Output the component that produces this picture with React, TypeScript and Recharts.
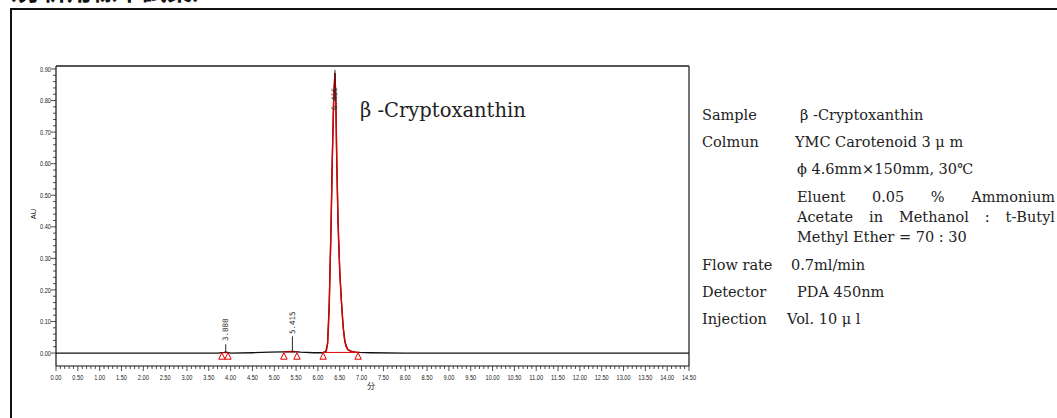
import React from 'react';
import { ComposedChart, Line, XAxis, YAxis, Scatter, ReferenceLine } from 'recharts';

// chromatogram trace (time in min, absorbance in AU)
const times = [0, 1.0, 2.0, 3.0, 3.7, 3.85, 3.89, 3.93, 4.0, 4.5, 4.9, 5.2, 5.415, 5.6, 5.9, 6.1, 6.18, 6.22, 6.26, 6.3, 6.33, 6.36, 6.39, 6.41, 6.43, 6.46, 6.5, 6.54, 6.58, 6.62, 6.68, 6.75, 6.85, 6.95, 7.2, 8.0, 9.0, 10.0, 11.0, 12.0, 13.0, 14.0, 14.5];
const signal = [0, 0, 0, 0, 0, 0.002, 0.003, 0.002, 0, 0.001, 0.003, 0.004, 0.005, 0.003, 0.001, 0.001, 0.005, 0.03, 0.16, 0.4, 0.62, 0.8, 0.887, 0.8, 0.62, 0.42, 0.26, 0.16, 0.08, 0.035, 0.012, 0.006, 0.003, 0.002, 0.001, 0, 0, 0, 0, 0, 0, 0, 0];
const peakSignal = [null, null, null, null, null, null, null, null, null, null, null, null, null, null, null, 0.001, 0.005, 0.03, 0.16, 0.4, 0.62, 0.8, 0.887, 0.8, 0.62, 0.42, 0.26, 0.16, 0.08, 0.035, 0.012, 0.006, 0.003, 0.002, null, null, null, null, null, null, null, null, null];

// integration markers
const markerTimes = [3.8, 3.94, 5.22, 5.52, 6.12, 6.92];
const markerLevel = [-0.01, -0.01, -0.01, -0.01, -0.01, -0.01];

// retention time labels
const rtTimes = [3.888, 5.415, 6.39];
const rtLabels = ['3.888', '5.415', '6.416'];
const rtLabelLevel = [0.038, 0.06, 0.77];
const rtLineFrom = [0, 0.004, 0.8];
const rtLineTo = [0.028, 0.053, 0.897];

// axis ticks
const xTicks = Array.from({ length: 146 }, (_, i) => i / 10);
const yTicks = Array.from({ length: 46 }, (_, i) => i / 50);

const data = times.map((t, i) => ({ t, s: signal[i], p: peakSignal[i] }));
const markers = markerTimes.map((t, i) => ({ t, v: markerLevel[i] }));
const rtPoints = rtTimes.map((t, i) => ({ t, v: rtLabelLevel[i], label: rtLabels[i] }));

const tickFont = '"Liberation Sans", Arial, sans-serif';

const XTick = (props: any) => {
  const { x, y, payload } = props;
  const v = payload.value as number;
  const major = Math.round(v * 10) % 5 === 0;
  const label = v.toFixed(2);
  return (
    <g>
      <line x1={x} x2={x} y1={y} y2={y + (major ? 5 : 3)} stroke="#222" strokeWidth={0.8} />
      {major && (
        <text x={x} y={y + 13.5} textAnchor="middle" fontSize={7.5} fontFamily={tickFont} fill="#222"
          textLength={label.length > 4 ? 14 : 11} lengthAdjust="spacingAndGlyphs">
          {label}
        </text>
      )}
    </g>
  );
};

const YTick = (props: any) => {
  const { x, y, payload } = props;
  const v = payload.value as number;
  const major = Math.round(v * 50) % 5 === 0;
  return (
    <g>
      <line x1={x - (major ? 5 : 3)} x2={x} y1={y} y2={y} stroke="#222" strokeWidth={0.8} />
      {major && (
        <text x={x - 5} y={y + 2.6} textAnchor="end" fontSize={7.5} fontFamily={tickFont} fill="#222"
          textLength={11} lengthAdjust="spacingAndGlyphs">
          {v.toFixed(2)}
        </text>
      )}
    </g>
  );
};

const Tri = (props: any) => {
  const { cx, cy } = props;
  if (cx == null || cy == null) return null;
  return <polygon points={`${cx},${cy - 3.5} ${cx - 3.2},${cy + 3} ${cx + 3.2},${cy + 3}`} fill="#fff" stroke="#e00000" strokeWidth={1} />;
};

const RtLabel = (props: any) => {
  const { cx, cy, payload } = props;
  if (cx == null || cy == null) return null;
  return (
    <text
      x={cx + 2.5}
      y={cy}
      transform={`rotate(-90 ${cx + 2.5} ${cy})`}
      textAnchor="start"
      fontSize={7.5}
      fontFamily='"DejaVu Sans Mono", monospace'
      fill="#333"
    >
      {payload.label}
    </text>
  );
};

const serif = '"DejaVu Serif", serif';

const abs = (left: number, top: number, extra: React.CSSProperties = {}): React.CSSProperties => ({
  position: 'absolute',
  left,
  top,
  whiteSpace: 'nowrap',
  fontFamily: serif,
  fontSize: 14.5,
  lineHeight: '18px',
  color: '#222',
  ...extra,
});

export default function App() {
  return (
    <div style={{ position: 'absolute', left: 0, top: 0, width: 1057, height: 418, overflow: 'hidden', background: '#fff' }}>
      {/* cut-off title */}
      <div style={{ position: 'absolute', left: -8, top: -23, fontSize: 25, lineHeight: '25px', fontWeight: 700, fontFamily: '"Noto Sans CJK JP", sans-serif', color: '#111', whiteSpace: 'nowrap' }}>
        （分析用標準試薬）
      </div>
      {/* outer frame */}
      <div style={{ position: 'absolute', left: 10, top: 8, width: 1100, height: 500, borderTop: '2px solid #111', borderLeft: '2px solid #111' }} />

      <div style={{ position: 'absolute', left: 0, top: 0 }}>
        <ComposedChart width={1057} height={418} data={data} margin={{ top: 66, right: 368, left: 0, bottom: 0 }}>
          <XAxis
            dataKey="t"
            type="number"
            domain={[0, 14.5]}
            ticks={xTicks}
            interval={0}
            tick={<XTick />}
            tickLine={false}
            tickSize={0}
            tickMargin={0}
            height={52}
            axisLine={{ stroke: '#111', strokeWidth: 1.2 }}
            allowDataOverflow
          />
          <YAxis
            type="number"
            domain={[-0.041, 0.9095]}
            ticks={yTicks}
            interval={0}
            tick={<YTick />}
            tickLine={false}
            tickSize={0}
            tickMargin={0}
            width={56}
            axisLine={{ stroke: '#111', strokeWidth: 1.2 }}
            allowDataOverflow
          />
          <ReferenceLine y={0.9095} stroke="#555" strokeWidth={2} ifOverflow="visible" />
          <ReferenceLine x={14.5} stroke="#444" strokeWidth={1.5} ifOverflow="visible" />
          <Line dataKey="s" type="linear" stroke="#111" strokeWidth={1.3} dot={false} isAnimationActive={false} />
          <Line dataKey="p" type="monotone" stroke="#e00000" strokeWidth={1.4} dot={false} isAnimationActive={false} connectNulls={false} />
          <ReferenceLine segment={[{ x: 3.8, y: 0.001 }, { x: 3.94, y: 0.001 }]} stroke="#e00000" strokeWidth={1} ifOverflow="visible" />
          <ReferenceLine segment={[{ x: 5.22, y: 0.004 }, { x: 5.52, y: 0.004 }]} stroke="#e00000" strokeWidth={1} ifOverflow="visible" />
          <ReferenceLine segment={[{ x: 6.12, y: 0.002 }, { x: 6.92, y: 0.002 }]} stroke="#e00000" strokeWidth={1} ifOverflow="visible" />
          {rtTimes.map((t, i) => (
            <ReferenceLine key={t} segment={[{ x: t, y: rtLineFrom[i] }, { x: t, y: rtLineTo[i] }]} stroke="#111" strokeWidth={0.9} ifOverflow="visible" />
          ))}
          <Scatter data={markers} dataKey="v" shape={<Tri />} isAnimationActive={false} />
          <Scatter data={rtPoints} dataKey="v" shape={<RtLabel />} isAnimationActive={false} />
        </ComposedChart>
      </div>

      {/* axis titles */}
      <div style={{ position: 'absolute', left: 29, top: 209, fontSize: 7.5, lineHeight: '10px', fontFamily: tickFont, color: '#222', transform: 'rotate(-90deg)' }}>AU</div>
      <div style={{ position: 'absolute', left: 367, top: 381, fontSize: 8, lineHeight: '9px', fontFamily: '"Noto Sans CJK JP", sans-serif', color: '#222' }}>分</div>

      {/* compound label */}
      <div style={abs(360, 99, { fontSize: 19.5, lineHeight: '24px' })}>β -Cryptoxanthin</div>

      {/* conditions */}
      <div style={abs(702, 106)}>Sample</div>
      <div style={abs(800, 106)}>β -Cryptoxanthin</div>
      <div style={abs(702, 133)}>Colmun</div>
      <div style={abs(795, 133)}>YMC Carotenoid 3 μ m</div>
      <div style={abs(797, 160)}>ϕ 4.6mm×150mm, 30℃</div>
      <div style={abs(797, 188, { width: 258, textAlign: 'justify', textAlignLast: 'justify', whiteSpace: 'normal' })}>Eluent 0.05 % Ammonium</div>
      <div style={abs(797, 208, { width: 258, textAlign: 'justify', textAlignLast: 'justify', whiteSpace: 'normal' })}>Acetate in Methanol : t-Butyl</div>
      <div style={abs(797, 228)}>Methyl Ether = 70 : 30</div>
      <div style={abs(702, 256)}>Flow rate</div>
      <div style={abs(791, 256)}>0.7ml/min</div>
      <div style={abs(702, 283)}>Detector</div>
      <div style={abs(797, 283)}>PDA 450nm</div>
      <div style={abs(702, 310)}>Injection</div>
      <div style={abs(787, 310)}>Vol. 10 μ l</div>
    </div>
  );
}
